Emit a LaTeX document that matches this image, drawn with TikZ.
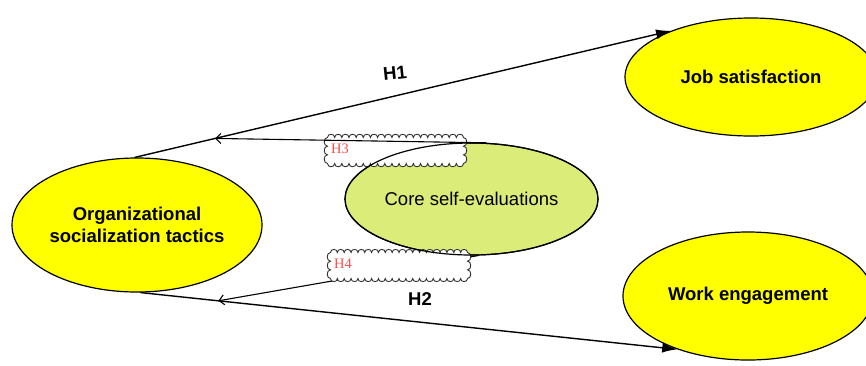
\documentclass[tikz,border=0pt]{standalone}
\usepackage{fontspec}
\setmainfont{Liberation Sans}
\newfontfamily\labserif{Liberation Serif}
\usetikzlibrary{shapes.geometric,arrows.meta,calc}
\definecolor{ylw}{RGB}{255,255,0}
\definecolor{cse}{RGB}{220,236,120}
\definecolor{hred}{RGB}{250,80,80}
\newcommand\myscallop[4]{%
  \pgfmathsetmacro\scxa{#1+3.5}\pgfmathsetmacro\scya{#2+3.5}%
  \pgfmathsetmacro\scxb{#3-3.5}\pgfmathsetmacro\scyb{#4-3.5}%
  \pgfmathtruncatemacro\scnh{round((\scxb-\scxa)/7)}%
  \pgfmathsetmacro\scwh{(\scxb-\scxa)/\scnh}%
  \pgfmathtruncatemacro\scnv{round((\scyb-\scya)/8)}%
  \pgfmathsetmacro\scwv{(\scyb-\scya)/\scnv}%
  \pgfmathsetmacro\sckh{0.6*\scwh}%
  \pgfmathsetmacro\sckv{0.5*\scwv}%
  \filldraw[cloudline] (\scxa,\scya)
    \foreach \i in {1,...,\scnh}{ .. controls +(0,-\sckh) and +(0,-\sckh) .. ({\scxa+\i*\scwh},\scya) }
    \foreach \i in {1,...,\scnv}{ .. controls +(\sckv,0) and +(\sckv,0) .. (\scxb,{\scya+\i*\scwv}) }
    \foreach \i in {1,...,\scnh}{ .. controls +(0,\sckh) and +(0,\sckh) .. ({\scxb-\i*\scwh},\scyb) }
    \foreach \i in {1,...,\scnv}{ .. controls +(-\sckv,0) and +(-\sckv,0) .. (\scxa,{\scyb-\i*\scwv}) }
    -- cycle;%
}
\begin{document}
\begin{tikzpicture}[x=1pt,y=-1pt,
  construct/.style={ellipse,draw=black,line width=1.2pt,inner sep=0pt,
     font=\fontsize{18.5}{22}\selectfont\bfseries,align=center},
  mainarrow/.style={line width=1.4pt,-{Latex[length=15pt,width=10pt]}},
  modarrow/.style={line width=1.1pt,-{Straight Barb[length=5pt,width=10pt]}},
  cloudline/.style={fill=white,draw=black!80,line width=0.9pt},
  hlabel/.style={font=\fontsize{18.5}{22}\selectfont\bfseries},
  mlabel/.style={font=\labserif\fontsize{14.5}{16}\selectfont,text=hred,anchor=west,inner sep=0pt}]
\useasboundingbox (0,0) rectangle (866,365);
\node[construct,fill=ylw,minimum width=250pt,minimum height=134pt] (org) at (137,225)
  {Organizational\\socialization tactics};
\node[construct,fill=ylw,minimum width=252pt,minimum height=118pt] (job) at (751,77) {Job satisfaction};
\node[construct,fill=ylw,minimum width=250pt,minimum height=128pt] (work) at (748,296) {Work engagement};
\node[construct,fill=cse,minimum width=253pt,minimum height=112pt,font=\fontsize{18.5}{22}\selectfont] (core) at (471.5,199) {Core self-evaluations};
% main paths
\draw[mainarrow] (org.92) -- (job.150);
\draw[mainarrow] (org.-87) -- (work.217);
\coordinate (h3end) at ($(org.92)!0.15!(job.150)$);
\coordinate (h4end) at ($(org.-87)!0.145!(work.217)$);
% H4
\draw[modarrow] (core.-83) -- (h4end);
\myscallop{327}{249}{471}{282}
\node[mlabel] (h4) at (334,264) {H4};
% H3
\myscallop{324}{134}{467}{167}
\draw[line width=1.2pt] (core.center) ellipse [x radius=126.5pt,y radius=56pt];
\draw[modarrow] (core.75) -- (h3end);
\node[mlabel] (h3) at (331,149) {H3};
\node[hlabel,rotate=6] (h1) at (395,73) {H1};
\node[hlabel] (h2) at (420,299) {H2};
\end{tikzpicture}
\end{document}
